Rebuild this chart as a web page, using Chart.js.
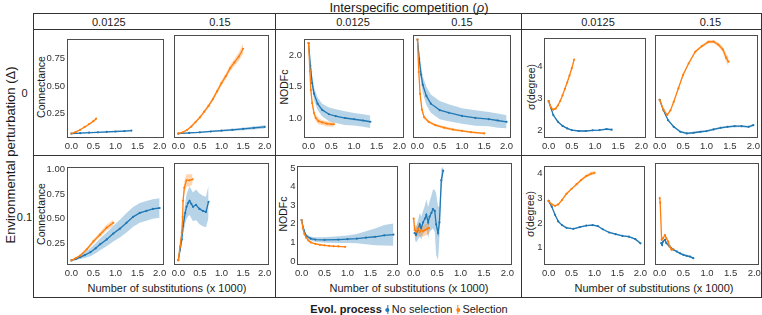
<!DOCTYPE html>
<html>
<head>
<meta charset="utf-8">
<script src="https://cdn.jsdelivr.net/npm/chart.js@4.4.0/dist/chart.umd.min.js"></script>
<style>
  body { margin: 0; background: #fff; }
  #wrap { position: relative; width: 762px; height: 315px; overflow: hidden;
          font-family: "Liberation Sans", Arial, Helvetica, sans-serif; color: #1a1a1a; }
  .t { position: absolute; white-space: nowrap; transform: translate(-50%, -50%); line-height: 1; }
  .rot { transform: translate(-50%, -50%) rotate(-90deg); }
  .ln { position: absolute; background: #333; }
  canvas { position: absolute; }
  #legend { position: absolute; left: 409px; top: 309px; transform: translate(-50%, -50%);
            font-size: 11px; white-space: nowrap; display: flex; align-items: center; }
  .key { display: inline-block; position: relative; width: 5px; height: 9px; margin: 0 2px 0 3px; }
  .key i { position: absolute; left: 2px; top: 0; width: 1px; height: 9px; }
  .key b { position: absolute; left: 0.5px; top: 3px; width: 4px; height: 4px; border-radius: 50%; }
</style>
</head>
<body>
<div id="wrap"></div>
<script>
// facets: rows = environmental perturbation (0, 0.1), groups = metric, columns = rho (0.0125, 0.15)
const rhoLabels = ['0.0125', '0.15'];
const deltaLabels = ['0', '0.1'];
const metricLabels = ['Connectance', 'NODFc', 'σ(degree)'];
const xTicks = [0, 0.5, 1, 1.5, 2];

// ---- Connectance, delta 0, rho 0.0125
const p1NoSelX = [0, 0.2, 0.4, 0.6, 0.8, 1.0, 1.2, 1.36];
const p1NoSelY = [0.070, 0.074, 0.078, 0.081, 0.085, 0.089, 0.093, 0.097];
const p1NoSelE = [0.003, 0.004, 0.004, 0.005, 0.005, 0.005, 0.006, 0.006];
const p1SelX = [0, 0.1, 0.2, 0.3, 0.4, 0.5, 0.56];
const p1SelY = [0.070, 0.085, 0.105, 0.13, 0.155, 0.183, 0.205];
const p1SelE = [0.003, 0.004, 0.005, 0.006, 0.007, 0.008, 0.008];
// ---- Connectance, delta 0, rho 0.15
const p2NoSelX = [0, 0.25, 0.5, 0.75, 1.0, 1.25, 1.5, 1.75, 2.0];
const p2NoSelY = [0.068, 0.074, 0.080, 0.087, 0.094, 0.101, 0.109, 0.118, 0.127];
const p2NoSelE = [0.003, 0.004, 0.005, 0.006, 0.008, 0.009, 0.011, 0.013, 0.015];
const p2SelX = [0, 0.1, 0.2, 0.3, 0.4, 0.5, 0.6, 0.7, 0.8, 0.9, 1.0, 1.1, 1.2, 1.3, 1.4, 1.5];
const p2SelY = [0.07, 0.08, 0.10, 0.13, 0.17, 0.21, 0.26, 0.31, 0.37, 0.44, 0.51, 0.57, 0.64, 0.69, 0.74, 0.81];
const p2SelE = [0.003, 0.004, 0.006, 0.008, 0.01, 0.012, 0.014, 0.016, 0.018, 0.02, 0.022, 0.024, 0.027, 0.03, 0.035, 0.045];
// ---- NODFc, delta 0, rho 0.0125
const p3NoSelX = [0, 0.04, 0.08, 0.12, 0.2, 0.3, 0.45, 0.6, 0.8, 1.0, 1.2, 1.36];
const p3NoSelY = [2.2, 1.84, 1.56, 1.39, 1.23, 1.13, 1.06, 1.03, 1.00, 0.98, 0.96, 0.94];
const p3NoSelE = [0.03, 0.08, 0.1, 0.1, 0.1, 0.1, 0.11, 0.11, 0.11, 0.1, 0.1, 0.1];
const p3SelX = [0, 0.03, 0.05, 0.08, 0.12, 0.16, 0.22, 0.3, 0.4, 0.5, 0.56];
const p3SelY = [2.2, 1.75, 1.45, 1.24, 1.08, 1.0, 0.95, 0.93, 0.91, 0.90, 0.90];
const p3SelE = [0.03, 0.06, 0.06, 0.06, 0.05, 0.05, 0.05, 0.04, 0.04, 0.04, 0.04];
// ---- NODFc, delta 0, rho 0.15
const p4NoSelX = [0, 0.04, 0.08, 0.12, 0.2, 0.3, 0.5, 0.7, 1.0, 1.3, 1.6, 1.8, 2.0];
const p4NoSelY = [2.2, 1.9, 1.66, 1.5, 1.33, 1.21, 1.11, 1.07, 1.02, 0.99, 0.97, 0.95, 0.93];
const p4NoSelE = [0.03, 0.1, 0.12, 0.13, 0.14, 0.14, 0.14, 0.13, 0.12, 0.12, 0.11, 0.11, 0.1];
const p4SelX = [0, 0.03, 0.06, 0.1, 0.15, 0.25, 0.4, 0.6, 0.8, 1.0, 1.2, 1.5];
const p4SelY = [2.2, 1.7, 1.36, 1.12, 1.0, 0.93, 0.88, 0.84, 0.81, 0.79, 0.77, 0.75];
const p4SelE = [0.03, 0.05, 0.04, 0.03, 0.03, 0.02, 0.02, 0.02, 0.02, 0.015, 0.015, 0.015];
// ---- sigma(degree), delta 0, rho 0.0125
const p5NoSelX = [0, 0.05, 0.1, 0.2, 0.3, 0.4, 0.5, 0.65, 0.8, 0.95, 1.1, 1.25, 1.36];
const p5NoSelY = [2.92, 2.70, 2.48, 2.27, 2.14, 2.06, 2.01, 1.98, 1.98, 2.0, 2.01, 2.04, 2.02];
const p5NoSelE = [0.03, 0.03, 0.03, 0.03, 0.02, 0.02, 0.02, 0.02, 0.02, 0.02, 0.02, 0.03, 0.03];
const p5SelX = [0, 0.05, 0.1, 0.15, 0.2, 0.25, 0.3, 0.35, 0.4, 0.45, 0.5, 0.55];
const p5SelY = [2.92, 2.72, 2.65, 2.68, 2.78, 2.92, 3.1, 3.3, 3.5, 3.72, 3.95, 4.22];
const p5SelE = [0.03, 0.03, 0.03, 0.03, 0.03, 0.03, 0.03, 0.04, 0.04, 0.05, 0.05, 0.07];
// ---- sigma(degree), delta 0, rho 0.15
const p6NoSelX = [0, 0.08, 0.18, 0.3, 0.44, 0.58, 0.72, 0.87, 1.0, 1.15, 1.3, 1.45, 1.6, 1.75, 1.9, 2.0];
const p6NoSelY = [2.92, 2.6, 2.3, 2.1, 1.95, 1.9, 1.92, 1.95, 1.97, 2.02, 2.07, 2.1, 2.12, 2.12, 2.10, 2.15];
const p6NoSelE = [0.03, 0.03, 0.03, 0.03, 0.03, 0.03, 0.03, 0.03, 0.03, 0.03, 0.03, 0.03, 0.03, 0.03, 0.03, 0.04];
const p6SelX = [0, 0.08, 0.16, 0.23, 0.3, 0.4, 0.5, 0.62, 0.76, 0.9, 1.04, 1.15, 1.25, 1.35, 1.42, 1.47];
const p6SelY = [2.92, 2.62, 2.46, 2.6, 2.86, 3.27, 3.68, 4.03, 4.38, 4.55, 4.68, 4.69, 4.6, 4.45, 4.2, 4.08];
const p6SelE = [0.03, 0.03, 0.03, 0.03, 0.03, 0.04, 0.04, 0.04, 0.04, 0.04, 0.05, 0.05, 0.06, 0.08, 0.12, 0.15];
// ---- Connectance, delta 0.1, rho 0.0125
const p7NoSelX = [0, 0.1, 0.2, 0.3, 0.43, 0.55, 0.65, 0.8, 0.95, 1.1, 1.25, 1.4, 1.55, 1.7, 1.85, 2.0];
const p7NoSelY = [0.077, 0.09, 0.11, 0.13, 0.16, 0.2, 0.24, 0.29, 0.35, 0.40, 0.46, 0.52, 0.56, 0.58, 0.60, 0.61];
const p7NoSelE = [0.005, 0.01, 0.02, 0.03, 0.04, 0.05, 0.06, 0.07, 0.08, 0.09, 0.1, 0.1, 0.1, 0.1, 0.1, 0.1];
const p7SelX = [0, 0.1, 0.2, 0.35, 0.5, 0.65, 0.8, 0.95];
const p7SelY = [0.077, 0.1, 0.126, 0.19, 0.27, 0.34, 0.41, 0.46];
const p7SelE = [0.005, 0.01, 0.012, 0.015, 0.02, 0.025, 0.03, 0.03];
// ---- Connectance, delta 0.1, rho 0.15
const p8NoSelX = [0, 0.04, 0.08, 0.11, 0.16, 0.19, 0.23, 0.26, 0.3, 0.34, 0.41, 0.49, 0.57, 0.64, 0.7];
const p8NoSelY = [0.077, 0.18, 0.28, 0.41, 0.54, 0.6, 0.64, 0.66, 0.63, 0.6, 0.62, 0.58, 0.56, 0.55, 0.65];
const p8NoSelE = [0.005, 0.04, 0.06, 0.08, 0.1, 0.12, 0.13, 0.14, 0.14, 0.14, 0.15, 0.15, 0.15, 0.15, 0.16];
const p8SelX = [0, 0.04, 0.08, 0.1, 0.11, 0.14, 0.19, 0.26, 0.33];
const p8SelY = [0.077, 0.21, 0.35, 0.5, 0.66, 0.79, 0.86, 0.86, 0.87];
const p8SelE = [0.005, 0.02, 0.03, 0.04, 0.05, 0.06, 0.06, 0.06, 0.05];
// ---- NODFc, delta 0.1, rho 0.0125
const p9NoSelX = [0, 0.05, 0.1, 0.2, 0.3, 0.5, 0.8, 1.0, 1.2, 1.4, 1.6, 1.8, 2.0];
const p9NoSelY = [2.2, 1.65, 1.35, 1.2, 1.15, 1.13, 1.15, 1.17, 1.2, 1.25, 1.3, 1.38, 1.42];
const p9NoSelE = [0.05, 0.1, 0.1, 0.1, 0.12, 0.15, 0.18, 0.2, 0.25, 0.35, 0.45, 0.55, 0.6];
const p9SelX = [0, 0.03, 0.06, 0.1, 0.15, 0.2, 0.3, 0.4, 0.5, 0.6, 0.7, 0.8, 0.95];
const p9SelY = [2.2, 1.75, 1.45, 1.25, 1.1, 1.0, 0.92, 0.87, 0.84, 0.81, 0.79, 0.78, 0.76];
const p9SelE = [0.05, 0.05, 0.05, 0.04, 0.04, 0.03, 0.03, 0.03, 0.02, 0.02, 0.02, 0.02, 0.02];
// ---- NODFc, delta 0.1, rho 0.15
const p10NoSelX = [0.02, 0.05, 0.09, 0.13, 0.16, 0.2, 0.24, 0.27, 0.31, 0.34, 0.38, 0.41, 0.45, 0.48, 0.52, 0.55, 0.59, 0.63];
const p10NoSelY = [1.45, 1.35, 1.6, 1.9, 1.7, 2.0, 2.2, 2.4, 2.0, 2.3, 2.5, 2.7, 2.6, 1.9, 1.45, 2.0, 4.2, 4.7];
const p10NoSelE = [0.3, 0.4, 0.5, 0.6, 0.6, 0.6, 0.7, 0.8, 0.8, 0.8, 0.9, 1.0, 1.1, 1.6, 1.4, 0.8, 0.6, 0.2];
const p10SelX = [0, 0.02, 0.06, 0.09, 0.13, 0.16, 0.2, 0.24, 0.28, 0.31, 0.33];
const p10SelY = [2.2, 1.6, 1.52, 1.69, 1.5, 1.6, 1.55, 1.6, 1.65, 1.7, 1.7];
const p10SelE = [0.1, 0.3, 0.3, 0.3, 0.3, 0.3, 0.3, 0.3, 0.3, 0.3, 0.3];
// ---- sigma(degree), delta 0.1, rho 0.0125
const p11NoSelX = [0, 0.07, 0.14, 0.21, 0.29, 0.39, 0.54, 0.68, 0.82, 0.96, 1.07, 1.18, 1.32, 1.46, 1.61, 1.75, 1.89, 2.0];
const p11NoSelY = [2.9, 2.66, 2.34, 2.07, 1.92, 1.81, 1.77, 1.84, 1.9, 1.92, 1.88, 1.75, 1.62, 1.55, 1.48, 1.45, 1.35, 1.18];
const p11NoSelE = [0.03, 0.03, 0.03, 0.03, 0.03, 0.03, 0.03, 0.03, 0.03, 0.03, 0.03, 0.03, 0.03, 0.03, 0.03, 0.03, 0.03, 0.04];
const p11SelX = [0, 0.07, 0.14, 0.21, 0.29, 0.39, 0.5, 0.61, 0.71, 0.82, 0.93, 1.0];
const p11SelY = [2.9, 2.76, 2.7, 2.76, 2.93, 3.19, 3.39, 3.58, 3.75, 3.91, 4.01, 4.04];
const p11SelE = [0.03, 0.03, 0.03, 0.03, 0.04, 0.04, 0.04, 0.05, 0.05, 0.06, 0.07, 0.08];
// ---- sigma(degree), delta 0.1, rho 0.15
const p12NoSelX = [0.03, 0.05, 0.07, 0.11, 0.14, 0.21, 0.29, 0.36, 0.43, 0.5, 0.57, 0.64, 0.71];
const p12NoSelY = [1.16, 1.09, 1.22, 1.29, 1.16, 1.03, 0.9, 0.83, 0.76, 0.7, 0.66, 0.63, 0.57];
const p12NoSelE = [0.04, 0.04, 0.04, 0.04, 0.04, 0.04, 0.04, 0.04, 0.04, 0.04, 0.04, 0.04, 0.04];
const p12SelX = [0, 0.01, 0.04, 0.07, 0.11, 0.14, 0.18, 0.21, 0.25, 0.29];
const p12SelY = [2.93, 2.75, 1.29, 1.35, 1.48, 1.35, 1.22, 1.03, 0.9, 0.92];
const p12SelE = [0.05, 0.05, 0.05, 0.05, 0.05, 0.05, 0.05, 0.05, 0.05, 0.05];

// y axis ticks per row/metric
const connTicks0 = [0.25, 0.5, 0.75];
const connTicks1 = [0.25, 0.5, 0.75, 1.0];
const nodfTicks0 = [1.0, 1.5, 2.0];
const nodfTicks1 = [0, 1, 2, 3, 4, 5];
const sdTicks0 = [2, 3, 4];
const sdTicks1 = [1, 2, 3, 4];

const series = [
  [p1NoSelX, p1NoSelY, p1NoSelE, p1SelX, p1SelY, p1SelE],
  [p2NoSelX, p2NoSelY, p2NoSelE, p2SelX, p2SelY, p2SelE],
  [p3NoSelX, p3NoSelY, p3NoSelE, p3SelX, p3SelY, p3SelE],
  [p4NoSelX, p4NoSelY, p4NoSelE, p4SelX, p4SelY, p4SelE],
  [p5NoSelX, p5NoSelY, p5NoSelE, p5SelX, p5SelY, p5SelE],
  [p6NoSelX, p6NoSelY, p6NoSelE, p6SelX, p6SelY, p6SelE],
  [p7NoSelX, p7NoSelY, p7NoSelE, p7SelX, p7SelY, p7SelE],
  [p8NoSelX, p8NoSelY, p8NoSelE, p8SelX, p8SelY, p8SelE],
  [p9NoSelX, p9NoSelY, p9NoSelE, p9SelX, p9SelY, p9SelE],
  [p10NoSelX, p10NoSelY, p10NoSelE, p10SelX, p10SelY, p10SelE],
  [p11NoSelX, p11NoSelY, p11NoSelE, p11SelX, p11SelY, p11SelE],
  [p12NoSelX, p12NoSelY, p12NoSelE, p12SelX, p12SelY, p12SelE]
];

// panel boxes on the page: [left, top, right, bottom], plus y range and ticks
const panels = [
  { box: [67, 35, 164, 138],  ymin: 0.03, ymax: 0.93, ticks: connTicks0, dec: 2, labels: true },
  { box: [174, 35, 269, 138], ymin: 0.03, ymax: 0.93, ticks: connTicks0, dec: 2, labels: false },
  { box: [304, 35, 404, 138], ymin: 0.68, ymax: 2.27, ticks: nodfTicks0, dec: 1, labels: true },
  { box: [413, 35, 511, 138], ymin: 0.68, ymax: 2.27, ticks: nodfTicks0, dec: 1, labels: false },
  { box: [544, 35, 646, 138], ymin: 1.76, ymax: 4.89, ticks: sdTicks0, dec: 0, labels: true },
  { box: [655, 35, 758, 138], ymin: 1.76, ymax: 4.89, ticks: sdTicks0, dec: 0, labels: false },
  { box: [67, 163, 164, 265],  ymin: 0.03, ymax: 1.03, ticks: connTicks1, dec: 2, labels: true },
  { box: [174, 163, 269, 265], ymin: 0.03, ymax: 1.03, ticks: connTicks1, dec: 2, labels: false },
  { box: [297, 163, 398, 265], ymin: -0.22, ymax: 5.1, ticks: nodfTicks1, dec: 0, labels: true },
  { box: [409, 163, 512, 265], ymin: -0.22, ymax: 5.1, ticks: nodfTicks1, dec: 0, labels: false },
  { box: [544, 163, 645, 265], ymin: 0.30, ymax: 4.31, ticks: sdTicks1, dec: 0, labels: true },
  { box: [655, 163, 759, 265], ymin: 0.30, ymax: 4.31, ticks: sdTicks1, dec: 0, labels: false }
];

const BLUE = '#1f77b4', BLUE_BAND = 'rgba(31,119,180,0.32)';
const ORANGE = '#ff7f0e', ORANGE_BAND = 'rgba(255,127,14,0.32)';
const FONT = '"Liberation Sans", Arial, Helvetica, sans-serif';

const wrap = document.getElementById('wrap');

function addText(html, x, y, size, rot) {
  const d = document.createElement('div');
  d.className = rot ? 't rot' : 't';
  d.style.left = x + 'px';
  d.style.top = y + 'px';
  d.style.fontSize = size + 'px';
  d.innerHTML = html;
  wrap.appendChild(d);
}
function addLine(x, y, w, h) {
  const d = document.createElement('div');
  d.className = 'ln';
  d.style.left = x + 'px'; d.style.top = y + 'px';
  d.style.width = w + 'px'; d.style.height = h + 'px';
  wrap.appendChild(d);
}

// frame around facet grid
addLine(33, 13, 729, 1);
addLine(33, 29, 729, 1);
addLine(33, 155, 729, 1);
addLine(33, 297, 729, 1);
addLine(33, 13, 1, 285);
addLine(275, 13, 1, 285);
addLine(521, 13, 1, 285);
addLine(761, 13, 1, 285);

addText('Interspecific competition (<i>ρ</i>)', 409, 6.5, 13);
addText('Environmental perturbation (Δ)', 10, 155, 13, true);
const stripX = [108.8, 220, 353, 462, 598, 710.5];
stripX.forEach((x, i) => addText(rhoLabels[i % 2], x, 21.5, 11));
addText(deltaLabels[0], 24.5, 93, 11);
addText(deltaLabels[1], 24.5, 217, 11);

const yTitleX = [[41, 284, 530.5], [41, 283.3, 530]];
[86.5, 214].forEach((y, r) => {
  metricLabels.forEach((m, g) => addText(m, yTitleX[r][g], y, 10.5, true));
});
[167, 409, 654].forEach(x => addText('Number of substitutions (x 1000)', x, 288, 11));

// legend
const leg = document.createElement('div');
leg.id = 'legend';
leg.innerHTML = '<b style="font-weight:bold">Evol. process</b>' +
  '<span class="key"><i style="background:' + BLUE + '"></i><b style="background:' + BLUE + '"></b></span>No selection' +
  '<span class="key"><i style="background:' + ORANGE + '"></i><b style="background:' + ORANGE + '"></b></span>Selection';
wrap.appendChild(leg);

const boxPlugin = {
  id: 'panelBox',
  afterDraw(chart) {
    const a = chart.chartArea, c = chart.ctx;
    c.save();
    c.strokeStyle = '#4d4d4d';
    c.lineWidth = 1;
    c.strokeRect(Math.round(a.left) + 0.5, Math.round(a.top) + 0.5,
                 Math.round(a.right - a.left) - 1, Math.round(a.bottom - a.top) - 1);
    c.restore();
  }
};

function pts(x, y) { return x.map((v, i) => ({ x: v, y: y[i] })); }
function band(x, y, e, sign) { return x.map((v, i) => ({ x: v, y: y[i] + sign * e[i] })); }

function seriesSets(x, y, e, color, fillColor, ord) {
  return [
    { data: band(x, y, e, 1), borderWidth: 0, pointRadius: 0, fill: '+1',
      backgroundColor: fillColor, order: ord + 2 },
    { data: band(x, y, e, -1), borderWidth: 0, pointRadius: 0, fill: false, order: ord + 2 },
    { data: pts(x, y), borderColor: color, backgroundColor: color, borderWidth: 1.3,
      pointRadius: 1.1, pointBorderWidth: 0, fill: false, order: ord }
  ];
}

const LW = 30, BH = 16, TOP = 4, RIGHT = 8;

panels.forEach((p, i) => {
  const [l, t, r, b] = p.box;
  const s = series[i];
  const cv = document.createElement('canvas');
  const w = LW + (r - l) + RIGHT, h = TOP + (b - t) + BH;
  cv.width = w; cv.height = h;
  cv.style.left = (l - LW) + 'px';
  cv.style.top = (t - TOP) + 'px';
  cv.style.width = w + 'px'; cv.style.height = h + 'px';
  wrap.appendChild(cv);

  new Chart(cv.getContext('2d'), {
    type: 'line',
    data: {
      datasets: [
        ...seriesSets(s[3], s[4], s[5], ORANGE, ORANGE_BAND, 0),
        ...seriesSets(s[0], s[1], s[2], BLUE, BLUE_BAND, 1)
      ]
    },
    plugins: [boxPlugin],
    options: {
      responsive: false,
      animation: false,
      devicePixelRatio: 1,
      layout: { autoPadding: false, padding: { left: 0, top: TOP, right: RIGHT, bottom: 0 } },
      plugins: { legend: { display: false }, tooltip: { enabled: false } },
      elements: { line: { tension: 0 } },
      scales: {
        x: {
          type: 'linear', min: -0.1, max: 2.1,
          grid: { display: false, drawTicks: false }, border: { display: false },
          afterBuildTicks: sc => { sc.ticks = xTicks.map(v => ({ value: v })); },
          afterFit: sc => { sc.height = BH; },
          ticks: { autoSkip: false, maxRotation: 0, padding: 3, color: '#333',
                   font: { family: FONT, size: 9.5 }, callback: v => v.toFixed(1) }
        },
        y: {
          type: 'linear', min: p.ymin, max: p.ymax,
          grid: { display: false, drawTicks: false }, border: { display: false },
          afterBuildTicks: sc => { sc.ticks = p.ticks.map(v => ({ value: v })); },
          afterFit: sc => { sc.width = LW; },
          ticks: { display: p.labels, autoSkip: false, padding: p.dec === 0 ? 1.5 : 2, color: '#333',
                   font: { family: FONT, size: 9.5 }, callback: v => v.toFixed(p.dec) }
        }
      }
    }
  });
});
</script>
</body>
</html>
